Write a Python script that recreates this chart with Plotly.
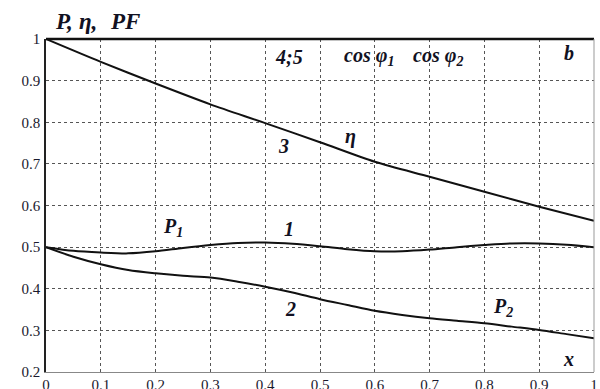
import plotly.graph_objects as go

x_vals = [0.0, 0.05, 0.1, 0.15, 0.2, 0.25, 0.3, 0.35, 0.4, 0.45, 0.5,
          0.55, 0.6, 0.65, 0.7, 0.75, 0.8, 0.85, 0.9, 0.95, 1.0]
p1_vals = [0.5, 0.491, 0.487, 0.485, 0.490, 0.498, 0.505, 0.510, 0.511, 0.508, 0.502,
           0.495, 0.490, 0.490, 0.494, 0.500, 0.505, 0.509, 0.509, 0.506, 0.500]
p2_vals = [0.5, 0.477, 0.459, 0.445, 0.437, 0.431, 0.427, 0.417, 0.405, 0.391, 0.375,
           0.361, 0.347, 0.337, 0.329, 0.323, 0.317, 0.309, 0.301, 0.291, 0.281]
eta_x = [0.0, 0.1, 0.2, 0.3, 0.4, 0.5, 0.6, 0.7, 0.8, 0.9, 1.0]
eta_vals = [1.0, 0.945, 0.893, 0.843, 0.798, 0.752, 0.705, 0.669, 0.633, 0.597, 0.563]

x_ticks = [0, 0.1, 0.2, 0.3, 0.4, 0.5, 0.6, 0.7, 0.8, 0.9, 1]
x_tick_text = ["0", "0.1", "0.2", "0.3", "0.4", "0.5", "0.6", "0.7", "0.8", "0.9", "1"]
y_ticks = [0.2, 0.3, 0.4, 0.5, 0.6, 0.7, 0.8, 0.9, 1]
y_tick_text = ["0.2", "0.3", "0.4", "0.5", "0.6", "0.7", "0.8", "0.9", "1"]

labels = [
    ("4;5", 0.443, 0.957),
    ("cos <i>φ</i><sub>1</sub>", 0.589, 0.957),
    ("cos <i>φ</i><sub>2</sub>", 0.716, 0.957),
    ("b", 0.954, 0.967),
    ("η", 0.555, 0.765),
    ("3", 0.434, 0.743),
    ("P<sub>1</sub>", 0.232, 0.546),
    ("1", 0.443, 0.544),
    ("2", 0.447, 0.351),
    ("P<sub>2</sub>", 0.834, 0.356),
    ("x", 0.954, 0.231),
]
# axis title pieces above the plot (paper coordinates)
title_parts = [("P,", 0.032), ("η,", 0.076), ("PF", 0.145)]

SERIF = "Liberation Serif"

line_style = dict(color="#111111", width=2, shape="spline", smoothing=0.8)

fig = go.Figure()
fig.add_trace(go.Scatter(x=eta_x, y=eta_vals, mode="lines", line=line_style))
fig.add_trace(go.Scatter(x=x_vals, y=p1_vals, mode="lines", line=line_style))
fig.add_trace(go.Scatter(x=x_vals, y=p2_vals, mode="lines", line=line_style))

font_lab = dict(family=SERIF, size=20, color="#111122")
annotations = []
for txt, ax_, ay_ in labels:
    annotations.append(dict(x=ax_, y=ay_, xref="x", yref="y",
                            text="<b><i>" + txt + "</i></b>", showarrow=False,
                            font=font_lab, xanchor="center", yanchor="middle"))
for txt, px_ in title_parts:
    annotations.append(dict(x=px_, y=1.052, xref="paper", yref="paper",
                            text="<b><i>" + txt + "</i></b>", showarrow=False,
                            font=dict(family=SERIF, size=23, color="#111122"),
                            xanchor="center", yanchor="middle"))

fig.update_layout(
    width=600, height=389,
    margin=dict(l=46, r=6, t=39, b=17, autoexpand=False),
    paper_bgcolor="white", plot_bgcolor="white",
    showlegend=False,
    font=dict(family=SERIF),
    annotations=annotations,
    shapes=[
        dict(type="line", xref="paper", yref="paper", x0=0, x1=1, y0=1, y1=1,
             line=dict(color="#111111", width=2.5)),
        dict(type="line", xref="paper", yref="paper", x0=1, x1=1, y0=0, y1=1,
             line=dict(color="#999999", width=1)),
    ],
)
fig.update_xaxes(
    range=[0, 1], tickvals=x_ticks, ticktext=x_tick_text, automargin=False,
    showgrid=True, gridcolor="#555555", griddash="dot", gridwidth=1,
    showline=True, linecolor="#888888", linewidth=1,
    zeroline=False, ticks="", ticklabelstandoff=-1,
    tickfont=dict(family=SERIF, size=15, color="#1a1a2e"),
)
fig.update_yaxes(
    range=[0.2, 1], tickvals=y_ticks, ticktext=y_tick_text, automargin=False,
    showgrid=True, gridcolor="#555555", griddash="dot", gridwidth=1,
    showline=True, linecolor="#222222", linewidth=1.5,
    zeroline=False, ticks="", ticklabelstandoff=1,
    tickfont=dict(family=SERIF, size=15, color="#1a1a2e"),
)

fig.write_html("out.html", config={"displayModeBar": False},
               post_script="document.body.style.margin='0';")
